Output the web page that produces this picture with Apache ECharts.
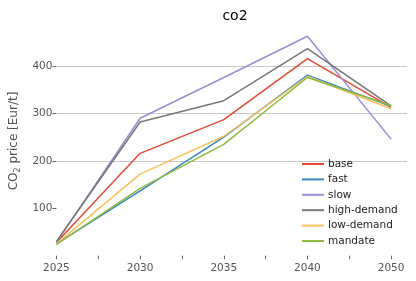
<!DOCTYPE html>
<html><head><meta charset="utf-8">
<script src="https://cdn.jsdelivr.net/npm/echarts@6/dist/echarts.min.js"></script>
<style>html,body{margin:0;padding:0;background:#fff}#c{width:416px;height:281px}</style>
</head><body><div id="c"></div>
<script>
const years = ['2025','2030','2035','2040','2050'];
const base = [28, 216, 287, 416, 313];
const fast = [25, 137, 250, 381, 315];
const slow = [28, 290, 376, 463, 246];
const highDemand = [30, 282, 327, 437, 316];
const lowDemand = [25, 172, 252, 378, 310];
const mandate = [24, 142, 235, 376, 317];
const yTicks = [100, 200, 300, 400];

const seriesDefs = [
  ['base', base, '#E24A33'],
  ['fast', fast, '#348ABD'],
  ['slow', slow, '#988ED5'],
  ['high-demand', highDemand, '#777777'],
  ['low-demand', lowDemand, '#FBC15E'],
  ['mandate', mandate, '#8EBA42']
];
const font = 'DejaVu Sans';
const chart = echarts.init(document.getElementById('c'), null, {renderer: 'canvas'});
chart.setOption({
  animation: false,
  backgroundColor: '#fff',
  textStyle: {fontFamily: font},
  title: {text: 'co2', left: 230, textAlign: 'center', top: 4,
    textStyle: {fontFamily: font, fontSize: 14, fontWeight: 'normal', color: '#000'}},
  grid: {left: 53, right: 9, top: 26.3, bottom: 25.3, containLabel: false},
  legend: {
    orient: 'vertical', left: 297, top: 153, itemGap: 3.4,
    itemWidth: 22, itemHeight: 2, icon: 'rect',
    textStyle: {fontFamily: font, fontSize: 10.5, color: '#222', lineHeight: 12, padding: [0,0,0,-1]},
    data: seriesDefs.map(s => s[0])
  },
  xAxis: {
    type: 'value', min: 0, max: 4.19,
    axisLine: {show: false},
    splitLine: {show: false},
    axisTick: {show: true, length: 3.5, customValues: [0,0.5,1,1.5,2,2.5,3,3.5,4], lineStyle: {color: '#666'}},
    axisLabel: {customValues: [0,1,2,3,4], formatter: v => years[Math.round(v)] || '',
      fontFamily: font, fontSize: 10.5, color: '#555', margin: 7}
  },
  yAxis: {
    type: 'value', min: 0, max: 484, interval: 100,
    name: 'CO{s|2} price [Eur/t]', nameLocation: 'middle', nameGap: 33, nameRotate: 90,
    nameTextStyle: {fontFamily: font, fontSize: 12, color: '#555',
      rich: {s: {fontFamily: font, fontSize: 8, color: '#555', verticalAlign: 'bottom', padding: [7,0,0,0]}}},
    axisLine: {show: false},
    axisTick: {show: true, length: 4, customValues: yTicks, lineStyle: {color: '#666'}},
    axisLabel: {customValues: yTicks, fontFamily: font, fontSize: 10.5, color: '#555', margin: 4},
    splitLine: {show: true, lineStyle: {color: ['rgba(0,0,0,0)', '#c8c8c8', '#c8c8c8', '#c8c8c8', '#c8c8c8', 'rgba(0,0,0,0)'], width: 1}}
  },
  series: seriesDefs.map(([name, vals, color]) => ({
    name, type: 'line', data: vals.map((v, i) => [i, v]),
    showSymbol: false, symbol: 'none',
    lineStyle: {color, width: 1.5}, itemStyle: {color},
    z: 3
  }))
});
</script></body></html>
